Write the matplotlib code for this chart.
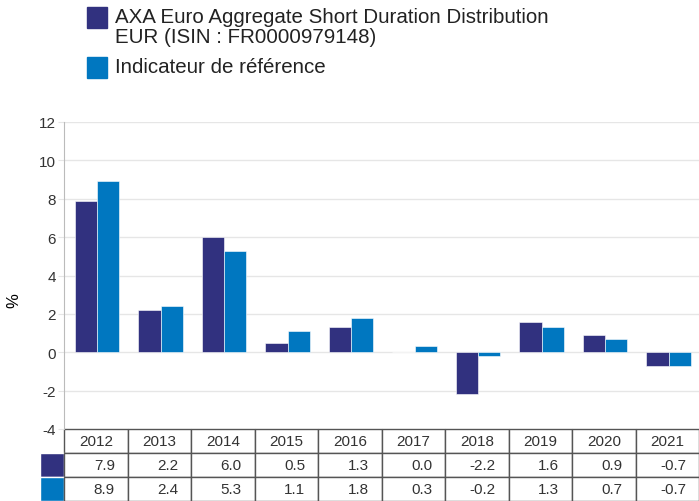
import numpy as np
import matplotlib.pyplot as plt
from matplotlib.patches import Rectangle

plt.rcParams['font.family'] = ['Liberation Sans', 'DejaVu Sans']
plt.rcParams['axes.unicode_minus'] = False

# Données
annees = ["2012", "2013", "2014", "2015", "2016", "2017", "2018", "2019", "2020", "2021"]
fonds = [7.9, 2.2, 6.0, 0.5, 1.3, 0.0, -2.2, 1.6, 0.9, -0.7]
indicateur = [8.9, 2.4, 5.3, 1.1, 1.8, 0.3, -0.2, 1.3, 0.7, -0.7]
nom_fonds = "AXA Euro Aggregate Short Duration Distribution\nEUR (ISIN : FR0000979148)"
nom_indicateur = "Indicateur de référence"

c_fonds = "#31317f"
c_ind = "#0077c0"

W, H = 699, 502
fig = plt.figure(figsize=(W / 100, H / 100), dpi=100)

# zone du graphique en pixels
x0, x1 = 64, 699
y_top, y_bot = 123, 430
ax = fig.add_axes([x0 / W, (H - y_bot) / H, (x1 - x0) / W, (y_bot - y_top) / H])

x = np.arange(len(annees))
larg = 0.35
ax.bar(x - larg / 2 + 0.02, fonds, larg, color=c_fonds, edgecolor="white", linewidth=0.4, zorder=3)
ax.bar(x + larg / 2 + 0.02, indicateur, larg, color=c_ind, edgecolor="white", linewidth=0.4, zorder=3)

ax.set_xlim(-0.5, len(annees) - 0.5)
ax.set_ylim(-4, 12)
ax.set_yticks(np.arange(-4, 13, 2))
ax.set_xticks([])
ax.grid(axis="y", color="#e6e6e6", linewidth=1, zorder=0)
ax.tick_params(axis="y", length=4, color="#e6e6e6", labelsize=11, labelcolor="#333333", pad=2)
for s in ["top", "right", "bottom"]:
    ax.spines[s].set_visible(False)
ax.spines["left"].set_color("#bbbbbb")
ax.set_ylabel("%", fontsize=12)
ax.yaxis.set_label_coords(-(x0 - 21) / (x1 - x0), 0.42)

# Tableau des valeurs
h_tab = (H - y_bot) / (y_bot - y_top)
w_lab = 24 / (x1 - x0)
cell_txt = [[f"{v:.1f}" for v in fonds], [f"{v:.1f}" for v in indicateur]]
tab = ax.table(cellText=cell_txt, rowLabels=["", ""], rowColours=[c_fonds, c_ind],
               colLabels=annees, cellLoc="right", colLoc="center",
               colWidths=[0.1] * len(annees),
               bbox=[0, -h_tab, 1, h_tab])
tab._autoColumns = []
tab.auto_set_font_size(False)
tab.set_fontsize(11)
for (r, c), cell in tab.get_celld().items():
    cell.set_edgecolor("#555555")
    cell.set_linewidth(1)
    cell.get_text().set_color("#333333")
    if c == -1:
        cell.set_width(w_lab)
        cell.set_edgecolor("white")
    elif r > 0:
        cell.PAD = 0.2

# Légende
fig.patches.append(Rectangle((87 / W, 1 - 29 / H), 20 / W, 21 / H, color=c_fonds, transform=fig.transFigure))
fig.patches.append(Rectangle((87 / W, 1 - 79 / H), 20 / W, 21 / H, color=c_ind, transform=fig.transFigure))
fig.text(115 / W, 1 - 8 / H, nom_fonds, fontsize=14.8, va="top", ha="left", color="#222222", linespacing=1.05)
fig.text(115 / W, 1 - 58 / H, nom_indicateur, fontsize=14.8, va="top", ha="left", color="#222222")

fig.savefig("out.png", dpi=100)
